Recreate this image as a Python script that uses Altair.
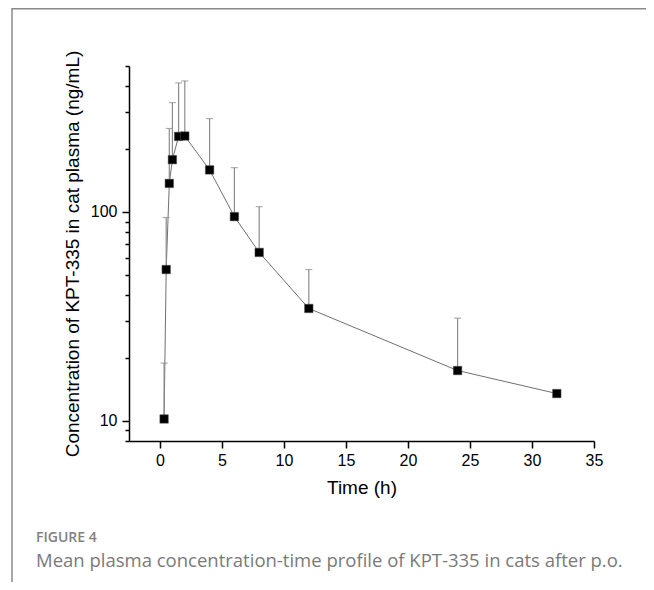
import altair as alt
import pandas as pd

# Data
time_h = [0.33, 0.5, 0.75, 1, 1.5, 2, 4, 6, 8, 12, 24, 32]
mean_conc = [10.2, 53, 137, 178, 230, 231, 159, 95, 64, 34.5, 17.4, 13.5]
upper_conc = [18.9, 94, 251, 334, 415, 424, 280, 163, 106, 53, 31, 13.5]

x_ticks = [0, 2.5, 5, 7.5, 10, 12.5, 15, 17.5, 20, 22.5, 25, 27.5, 30, 32.5, 35]
y_ticks = [8, 9, 10, 20, 30, 40, 50, 60, 70, 80, 90, 100, 200, 300, 400, 500]

x_title = "Time (h)"
y_title = "Concentration of KPT-335 in cat plasma (ng/mL)"
fig_label = "FIGURE 4"
fig_caption = "Mean plasma concentration-time profile of KPT-335 in cats after p.o."

df = pd.DataFrame({"t": time_h, "mean": mean_conc, "upper": upper_conc})
df_err = df[df["upper"] > df["mean"]]

W, H = 465, 375
LEFT, TOP = 121, 58

x_scale = alt.Scale(domain=[-2.5, 35], nice=False, zero=False)
y_scale = alt.Scale(type="log", domain=[8, 500], nice=False)

x_axis = alt.Axis(
    title=x_title, values=x_ticks,
    labelExpr="datum.value % 5 == 0 ? datum.label : ''",
    tickSize={"condition": {"test": "datum.value % 5 == 0", "value": 7}, "value": 4},
    labelFlush=False, labelOverlap=False, grid=False,
    labelPadding=4, titlePadding=10,
)
y_axis = alt.Axis(
    title=y_title, values=y_ticks,
    labelExpr="(datum.value == 10 || datum.value == 100) ? datum.label : ''",
    tickSize={"condition": {"test": "datum.value == 10 || datum.value == 100", "value": 7}, "value": 4},
    labelFlush=False, labelOverlap=False, grid=False,
    labelPadding=5, titlePadding=8,
)

base = alt.Chart(df)

line = base.mark_line(color="#707070", strokeWidth=1).encode(
    x=alt.X("t:Q", scale=x_scale, axis=x_axis),
    y=alt.Y("mean:Q", scale=y_scale, axis=y_axis),
)

err = alt.Chart(df_err).mark_rule(color="#8c8c8c", strokeWidth=1.2).encode(
    x="t:Q", y="mean:Q", y2="upper:Q"
)
caps = alt.Chart(df_err).mark_tick(color="#8c8c8c", orient="horizontal", size=7, thickness=1.2).encode(
    x="t:Q", y="upper:Q"
)

pts = base.mark_point(shape="square", filled=True, size=72, color="#000000", opacity=1,
                      stroke="#555555", strokeWidth=0.5).encode(
    x="t:Q", y="mean:Q"
)

one = pd.DataFrame({"k": [0]})
label_txt = alt.Chart(one).mark_text(
    text=fig_label, font="Open Sans", fontSize=14, fontWeight=600, color="#808080",
    align="left", baseline="alphabetic",
).encode(x=alt.value(36 - 129), y=alt.value(542 - 66))
caption_txt = alt.Chart(one).mark_text(
    text=fig_caption, font="Open Sans", fontSize=18.5, color="#7a7a7a",
    align="left", baseline="alphabetic",
).encode(x=alt.value(36 - 129), y=alt.value(567 - 66))

frame_left = alt.Chart(one).mark_rule(color="#8a8a8a", strokeWidth=1.5).encode(
    x=alt.value(12 - 129), y=alt.value(-TOP), y2=alt.value(600)
)
frame_top = alt.Chart(one).mark_rule(color="#8a8a8a", strokeWidth=1.5).encode(
    x=alt.value(12 - 129), x2=alt.value(700), y=alt.value(-TOP + 0.75)
)

chart = alt.layer(line, err, caps, pts, label_txt, caption_txt, frame_left, frame_top).properties(
    width=W, height=H,
    autosize=alt.AutoSizeParams(type="none"),
    padding={"left": LEFT, "top": TOP, "right": 654 - 16 - LEFT - W, "bottom": 590 - 16 - TOP - H},
).configure_view(stroke=None).configure_axis(
    labelFont="Liberation Sans", titleFont="Liberation Sans",
    labelFontSize=16, titleFontSize=19, titleFontWeight="normal",
    labelColor="#000000", titleColor="#000000",
    domainColor="#000000", tickColor="#000000", domainWidth=1.5, tickWidth=1.5,
)

chart.save("out.html", embed_options={"renderer": "svg", "actions": False})
